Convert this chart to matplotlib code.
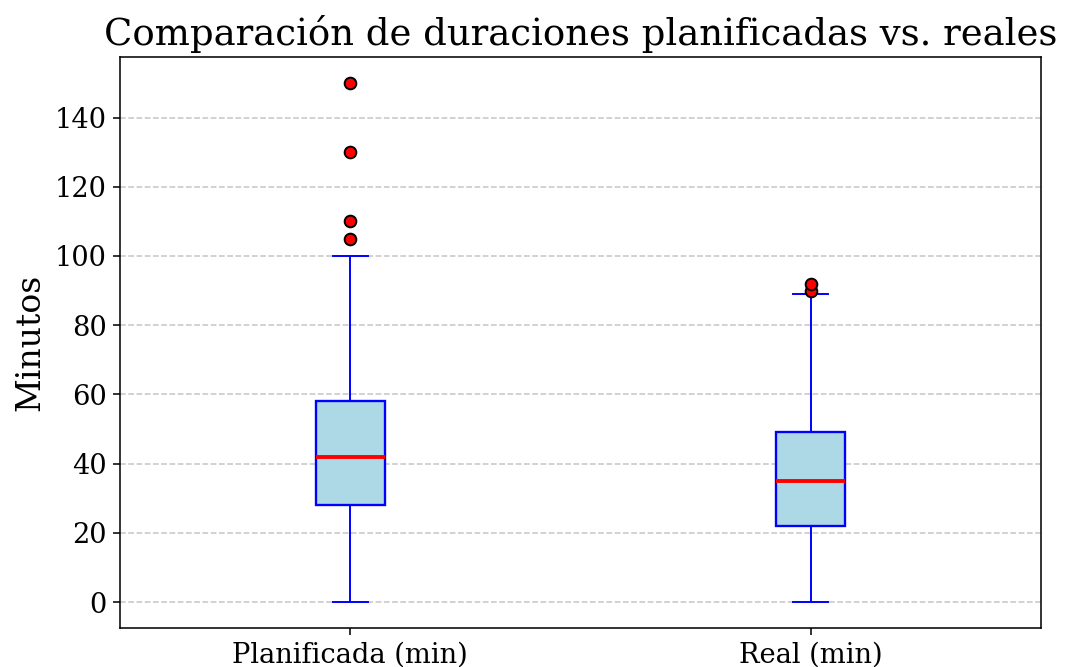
import matplotlib.pyplot as plt

# Estadísticos (minutos)
etiquetas = ['Planificada (min)', 'Real (min)']
minimos = [0, 0]
q1 = [28, 22]
medianas = [42, 35]
q3 = [58, 49]
maximos = [100, 89]
atipicos_plan = [105, 110, 130, 150]
atipicos_real = [90, 92]

plt.rcParams['font.family'] = 'DejaVu Serif'

stats = []
atipicos = [atipicos_plan, atipicos_real]
for i in range(len(etiquetas)):
    stats.append({
        'label': etiquetas[i],
        'whislo': minimos[i],
        'q1': q1[i],
        'med': medianas[i],
        'q3': q3[i],
        'whishi': maximos[i],
        'fliers': atipicos[i],
    })

fig, ax = plt.subplots(figsize=(1066 / 140, 667 / 140), dpi=140)
ax.bxp(stats, patch_artist=True, widths=0.15,
       boxprops=dict(facecolor='lightblue', edgecolor='blue', linewidth=1.2),
       medianprops=dict(color='red', linewidth=2),
       whiskerprops=dict(color='blue', linewidth=1),
       capprops=dict(color='blue', linewidth=1),
       flierprops=dict(marker='o', markerfacecolor='red', markeredgecolor='black',
                       markersize=6, markeredgewidth=1))

ax.set_title('Comparación de duraciones planificadas vs. reales', fontsize=19)
ax.set_ylabel('Minutos', fontsize=17)
ax.tick_params(axis='both', labelsize=14)
ax.yaxis.grid(True, linestyle='--', color='gray', alpha=0.45)
ax.set_axisbelow(True)

plt.subplots_adjust(left=0.1126, right=0.9765, top=0.9145, bottom=0.0585)
plt.savefig('out.png', dpi=140)
